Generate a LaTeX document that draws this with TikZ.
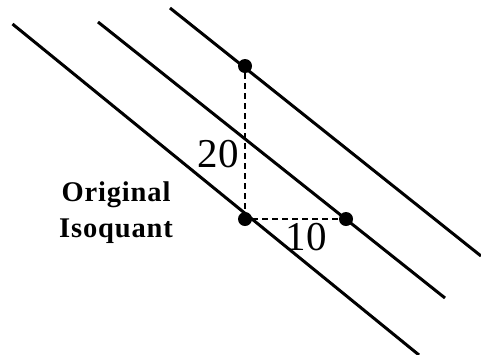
\documentclass[tikz,border=0pt]{standalone}
\usepackage{fontspec}
\setmainfont{Liberation Serif}
\begin{document}
\begin{tikzpicture}[x=1pt,y=-1pt,
  isoline/.style={line width=3pt},
  guide/.style={line width=1.8pt, dash pattern=on 6pt off 4pt},
  dot/.style={circle, fill=black, inner sep=0pt, minimum size=14pt},
  numlabel/.style={font=\fontsize{41}{41}\selectfont, inner sep=0pt},
  isolabel/.style={font=\fontsize{28.5}{36}\selectfont\bfseries\addfontfeature{LetterSpace=3}, align=center, inner sep=0pt}]
\useasboundingbox (0,0) rectangle (481,354);
% isoquant lines
\coordinate (l1s) at (12.5,24);
\coordinate (l1e) at (419,355);
\coordinate (l2s) at (98,22);
\coordinate (l2e) at (445,298);
\coordinate (l3s) at (170,8);
\coordinate (l3e) at (481,256);
\draw[isoline] (l1s) -- (l1e);
\draw[isoline] (l2s) -- (l2e);
\draw[isoline] (l3s) -- (l3e);
% points
\node[dot] (top) at (245,66) {};
\node[dot] (orig) at (245,219) {};
\node[dot] (right) at (346,219) {};
\draw[guide] (top) -- (orig);
\draw[guide] (orig) -- (right);
% labels
\node[numlabel] (n20) at (218,154) {20};
\node[numlabel] (n10) at (306,237) {10};
\node[isolabel] (orignal) at (116,213) {Original\\Isoquant};
\end{tikzpicture}
\end{document}
